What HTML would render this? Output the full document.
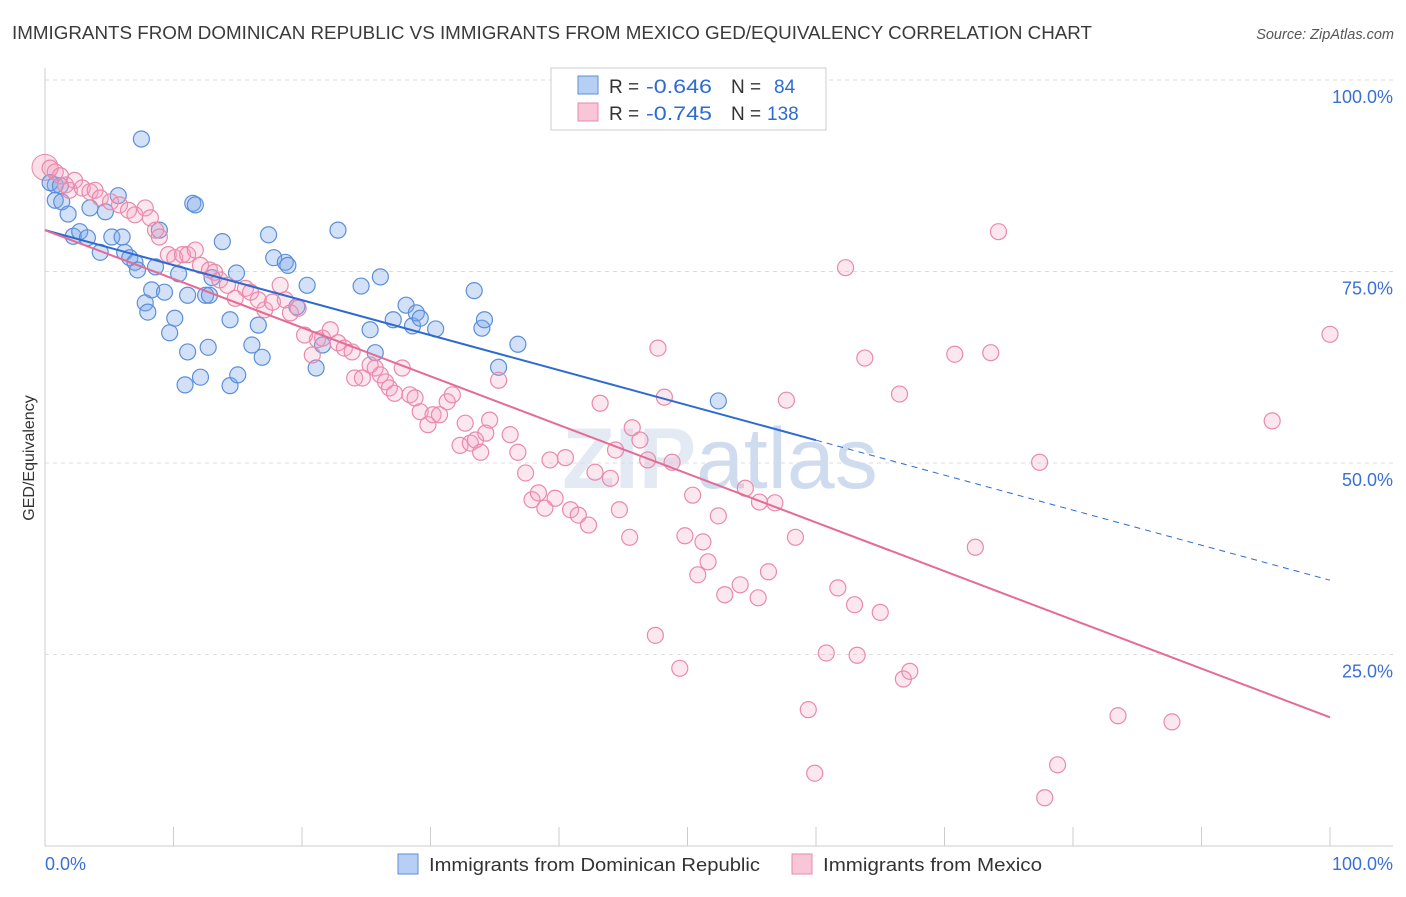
<!DOCTYPE html>
<html><head><meta charset="utf-8"><style>
body{margin:0;background:#fff;font-family:"Liberation Sans",sans-serif}
svg text{font-family:"Liberation Sans",sans-serif}
</style></head><body>
<svg id="chart" width="1406" height="892" viewBox="0 0 1406 892" xmlns="http://www.w3.org/2000/svg">
<text x="12" y="39" font-size="18" fill="#3a3a3a" textLength="1080" lengthAdjust="spacingAndGlyphs">IMMIGRANTS FROM DOMINICAN REPUBLIC VS IMMIGRANTS FROM MEXICO GED/EQUIVALENCY CORRELATION CHART</text>
<text x="1394" y="39" font-size="14.5" fill="#555" text-anchor="end" font-style="italic">Source: ZipAtlas.com</text>
<text x="720" y="488" font-size="86" fill="#e4eaf3" text-anchor="middle" font-family="Liberation Serif" font-weight="bold">ZIP<tspan font-family="Liberation Sans" font-weight="normal" fill="#cfdcf0">atlas</tspan></text>
<g id="grid"></g>
<g id="axes"></g>
<g id="pts"></g>
<g id="lines"></g>
<text transform="translate(34,458) rotate(-90)" font-size="16" fill="#333" text-anchor="middle">GED/Equivalency</text>
<g>
<rect x="551" y="68" width="275" height="62" fill="#fff" stroke="#ccc"/>
<rect x="578" y="76" width="20" height="18" fill="#b7cff4" stroke="#5b8fd9"/>
<rect x="578" y="103" width="20" height="18" fill="#f8c6d6" stroke="#e98aa9"/>
<text x="609" y="93" font-size="19" fill="#333">R =</text>
<text x="646" y="93" font-size="19" fill="#2d6bd1" textLength="66" lengthAdjust="spacingAndGlyphs">-0.646</text>
<text x="731" y="93" font-size="19" fill="#333">N =</text>
<text x="774" y="93" font-size="19" fill="#2d6bd1">84</text>
<text x="609" y="120" font-size="19" fill="#333">R =</text>
<text x="646" y="120" font-size="19" fill="#2d6bd1" textLength="66" lengthAdjust="spacingAndGlyphs">-0.745</text>
<text x="731" y="120" font-size="19" fill="#333">N =</text>
<text x="767" y="120" font-size="19" fill="#2d6bd1">138</text>
</g>
<g>
<rect x="398" y="854" width="20" height="20" fill="#b7cff4" stroke="#5b8fd9"/>
<text x="429" y="871" font-size="18.5" fill="#333" textLength="331" lengthAdjust="spacingAndGlyphs">Immigrants from Dominican Republic</text>
<rect x="792" y="854" width="20" height="20" fill="#f8c6d6" stroke="#e98aa9"/>
<text x="823" y="871" font-size="18.5" fill="#333" textLength="219" lengthAdjust="spacingAndGlyphs">Immigrants from Mexico</text>
</g>
</svg>
<script>
const yTicks=[100,75,50,25];
const yTickLabels=["100.0%","75.0%","50.0%","25.0%"];
const xTicks=[0,10,20,30,40,50,60,70,80,90,100];
const blueX=[7.5,0.8,0.4,0.8,1.3,1.8,2.2,2.7,3.3,3.5,4.3,4.7,5.2,5.7,6.0,6.2,6.6,7.0,7.2,7.8,8.0,8.3,8.6,8.9,9.3,9.7,10.1,10.4,10.9,11.1,11.1,11.5,11.7,12.1,12.5,12.7,12.8,13.0,13.8,14.4,14.4,14.9,15.0,16.1,16.6,16.9,17.4,17.8,18.7,18.9,19.6,20.4,21.1,21.6,22.8,24.6,25.3,25.7,26.1,27.1,28.1,28.6,28.9,29.2,30.4,33.4,34.0,34.2,35.3,36.8,52.4,1.2];
const blueY=[92.3,86.3,86.6,84.3,84.1,82.5,79.6,80.2,79.4,83.3,77.5,82.8,79.5,84.9,79.5,77.5,76.8,76.2,75.2,70.9,69.7,72.6,75.6,80.4,72.3,67.0,68.9,74.7,60.2,71.9,64.5,83.9,83.7,61.2,71.9,65.1,71.9,74.2,78.9,68.7,60.1,74.8,61.5,65.4,68.0,63.8,79.8,76.8,76.2,75.8,70.4,73.2,62.4,65.4,80.4,73.1,67.4,64.4,74.3,68.7,70.6,67.9,69.6,68.9,67.5,72.5,67.6,68.7,62.5,65.5,58.1,86.2];
const pinkX=[0.4,0.8,1.2,1.6,1.9,2.3,2.9,3.5,3.9,4.3,5.1,5.8,6.5,7.0,7.8,8.2,8.6,8.9,9.6,10.1,10.7,11.1,11.7,12.1,12.8,13.2,13.6,14.2,14.8,15.6,16.0,16.6,17.1,17.7,18.3,18.7,19.1,19.7,20.2,20.8,21.2,21.6,22.2,22.8,23.3,23.9,24.1,24.7,25.3,25.7,26.1,26.5,26.8,27.2,27.8,28.4,28.8,29.2,29.8,30.2,30.7,31.3,31.7,32.3,32.7,33.1,33.5,33.9,34.3,34.6,35.3,36.2,36.8,37.4,37.9,38.4,38.9,39.3,39.7,40.5,40.9,41.5,42.3,42.8,43.2,44.0,44.4,44.7,45.5,45.7,46.3,46.9,47.5,47.7,48.2,48.8,49.4,49.8,50.4,50.8,51.2,51.6,52.4,52.9,54.1,54.5,55.5,55.6,56.3,56.8,57.7,58.4,59.4,59.9,60.8,61.7,62.3,63.0,63.2,63.8,65.0,66.5,66.8,67.3,70.8,72.4,73.6,74.2,77.4,77.8,78.8,83.5,87.7,95.5,100,54.7];
const pinkY=[88.5,88.0,87.5,86.3,85.6,86.9,85.9,85.4,85.6,84.6,84.1,83.7,83.0,82.4,83.3,82.0,80.4,79.5,77.2,76.8,77.2,77.2,77.8,75.8,75.2,74.9,73.9,73.2,71.5,72.8,72.3,71.3,70.0,71.0,73.2,71.3,69.6,70.2,66.7,64.1,66.1,66.3,67.4,65.7,65.0,64.5,61.1,61.1,62.8,62.4,61.5,60.6,59.8,59.1,62.4,58.9,58.5,56.7,55.0,56.3,56.3,58.0,58.9,52.3,55.2,52.6,53.0,51.4,53.9,55.6,60.8,53.7,51.4,48.7,45.2,46.1,44.1,50.4,45.4,50.7,43.9,43.2,41.9,48.8,57.8,48.0,51.7,43.9,40.3,54.6,53.0,50.4,27.5,65.0,58.6,50.1,23.2,40.5,45.8,35.4,39.7,37.1,43.1,32.8,34.1,46.7,32.4,44.9,35.8,44.8,58.2,40.3,17.8,9.5,25.2,33.7,75.5,31.5,24.9,63.7,30.5,59.0,21.8,22.8,64.2,39.0,64.4,80.2,50.1,6.3,10.6,17.0,16.2,55.5,66.8,100.0];
const blueLine=[80.4,34.7];
const pinkLine=[80.4,16.8];
const NS="http://www.w3.org/2000/svg";
const sx=v=>45+v*12.85, sy=v=>846-v*7.66;
function mk(tag,attrs,parent){const e=document.createElementNS(NS,tag);for(const k in attrs)e.setAttribute(k,attrs[k]);parent.appendChild(e);return e;}
const gridG=document.getElementById('grid'),axesG=document.getElementById('axes'),ptsG=document.getElementById('pts'),linesG=document.getElementById('lines');
const topLine=mk('line',{x1:45,x2:1393,y1:sy(100),y2:sy(100),stroke:'#ddd','stroke-dasharray':'4,4'},gridG);


yTicks.forEach((t,i)=>{
 const g=mk('line',{x1:45,x2:1393,y1:sy(t),y2:sy(t),stroke:'#ddd','stroke-dasharray':'4,4'},gridG);
 
 
 const l=mk('text',{x:1393,y:sy(t)+23,'font-size':18,fill:'#3a6fd8','text-anchor':'end'},axesG);
 l.textContent=yTickLabels[i];
 
 
});
const yax=mk('line',{x1:45,x2:45,y1:68,y2:846,stroke:'#ccc'},axesG);


const xax=mk('line',{x1:45,x2:1393,y1:846,y2:846,stroke:'#ccc'},axesG);


xTicks.forEach(t=>{
 const k=mk('line',{x1:sx(t),x2:sx(t),y1:827,y2:846,stroke:'#ccc'},axesG);
 
 
});
const xl0=mk('text',{x:45,y:870,'font-size':18,fill:'#3a6fd8'},axesG);xl0.textContent='0.0%';


const xl1=mk('text',{x:1393,y:870,'font-size':18,fill:'#3a6fd8','text-anchor':'end'},axesG);xl1.textContent='100.0%';


const big=mk('circle',{cx:sx(0),cy:sy(88.6),r:13,fill:'rgba(240,150,180,0.3)',stroke:'#e98aa9','stroke-width':1},ptsG);


blueX.forEach((x,i)=>{
 const c=mk('circle',{cx:sx(x),cy:sy(blueY[i]),r:8,fill:'rgba(120,165,235,0.33)',stroke:'#5b8fd9','stroke-width':1.2},ptsG);
 
 
});
pinkX.forEach((x,i)=>{
 const c=mk('circle',{cx:sx(x),cy:sy(pinkY[i]),r:8,fill:'rgba(245,160,190,0.25)',stroke:'#e98aa9','stroke-width':1.2},ptsG);
 
 
});
const bAt=x=>blueLine[0]+(blueLine[1]-blueLine[0])*x/100;
const bl=mk('line',{x1:sx(0),y1:sy(bAt(0)),x2:sx(60),y2:sy(bAt(60)),stroke:'#2d6bd1','stroke-width':2},linesG);


const bd=mk('line',{x1:sx(60),y1:sy(bAt(60)),x2:sx(100),y2:sy(bAt(100)),stroke:'#2d6bd1','stroke-width':1,'stroke-dasharray':'6,5'},linesG);


const pl=mk('line',{x1:sx(0),y1:sy(pinkLine[0]),x2:sx(100),y2:sy(pinkLine[1]),stroke:'#e56b95','stroke-width':2},linesG);


</script>
</body></html>
